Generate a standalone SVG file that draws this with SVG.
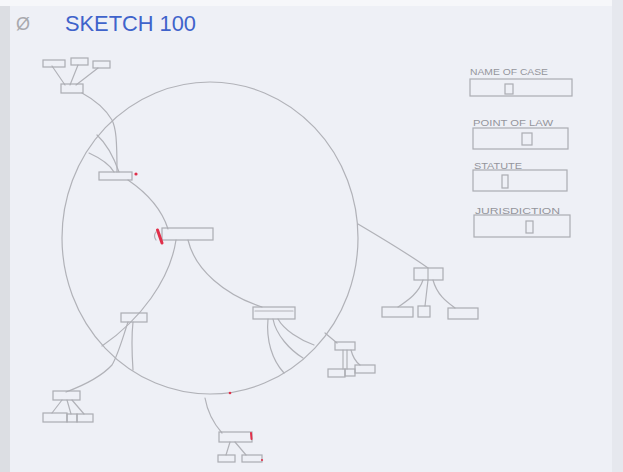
<svg xmlns="http://www.w3.org/2000/svg" width="623" height="472" viewBox="0 0 623 472">
<defs>
<style>
.ln{fill:none;stroke:#b1b2b8;stroke-width:1.2;stroke-linecap:round}
.bx{fill:none;stroke:#abacb2;stroke-width:1.2}
.lbl{font-family:"Liberation Sans",Arial,sans-serif;font-size:8.5px;fill:#94959c}
.red{fill:none;stroke:#e0304a;stroke-linecap:round}
</style>
</defs>
<rect width="623" height="472" fill="#eef0f6"/>
<rect x="0" y="0" width="10" height="472" fill="#dcdee3"/>
<rect x="0" y="0" width="623" height="6" fill="#f6f7fa"/>
<rect x="612" y="0" width="11" height="472" fill="#e6e8ee"/>

<text x="16" y="30" font-family="Liberation Sans, Arial, sans-serif" font-size="18" fill="#a8a9ae">Ø</text>
<text x="65" y="31" font-family="Liberation Sans, Arial, sans-serif" font-size="22" fill="#3f63cb" textLength="131" lengthAdjust="spacingAndGlyphs">SKETCH 100</text>

<g id="connectors">
<ellipse class="ln" cx="210" cy="238" rx="148" ry="156"/>
<path class="ln" d="M52 66 L65 85"/>
<path class="ln" d="M78 65 L70 85"/>
<path class="ln" d="M98 68 L76 85"/>
<path class="ln" d="M82 93 C95 100 106 110 112 120 C116 128 117 140 117 172"/>
<path class="ln" d="M97 135 C108 145 114 158 119 172"/>
<path class="ln" d="M89 153 C100 158 110 165 114 172"/>
<path class="ln" d="M128 180 C150 195 162 210 168 229"/>
<path class="ln" d="M188 240 C195 270 225 295 262 307"/>
<path class="ln" d="M176 240 C170 280 140 320 102 346"/>
<path class="ln" d="M128 322 C122 340 118 355 112 365 C100 378 82 386 66 392"/>
<path class="ln" d="M133 322 C131 340 132 355 133 370"/>
<path class="ln" d="M268 319 C266 340 272 360 284 373"/>
<path class="ln" d="M273 319 C276 335 290 350 303 358"/>
<path class="ln" d="M278 319 C284 330 300 340 314 345"/>
<path class="ln" d="M325 333 L337 343"/>
<path class="ln" d="M343 350 L343 369"/>
<path class="ln" d="M347 350 L347 369"/>
<path class="ln" d="M351 350 C353 358 356 362 360 365"/>
<path class="ln" d="M358 224 C385 240 410 255 428 268"/>
<path class="ln" d="M423 280 C418 295 405 302 398 307"/>
<path class="ln" d="M428 280 L425 306"/>
<path class="ln" d="M433 280 C437 295 447 302 455 308"/>
<path class="ln" d="M205 398 C208 415 215 425 222 433"/>
<path class="ln" d="M230 442 L226 455"/>
<path class="ln" d="M235 442 L246 455"/>
<path class="ln" d="M62 400 L52 413"/>
<path class="ln" d="M67 400 L71 414"/>
<path class="ln" d="M72 400 L84 414"/>
</g>

<g id="node-topleft">
<rect class="bx" x="43" y="60" width="22" height="7"/>
<rect class="bx" x="71" y="58" width="17" height="7"/>
<rect class="bx" x="93" y="61" width="17" height="7"/>
<rect class="bx" x="61" y="84" width="22" height="9"/>
</g>

<g id="node-a">
<rect class="bx" x="99" y="172" width="33" height="8"/>
<circle cx="136" cy="174" r="1.6" fill="#e0304a"/>
</g>

<g id="node-center">
<rect class="bx" x="162" y="228" width="51" height="12"/>
<path class="ln" d="M156 232 Q153 236 156 240"/>
<line class="red" x1="157.5" y1="230" x2="162" y2="243" stroke-width="3"/>
</g>

<g id="node-left">
<rect class="bx" x="121" y="313" width="26" height="9"/>
</g>

<g id="node-rightcenter">
<rect class="bx" x="253" y="307" width="42" height="12"/>
<line class="ln" x1="255" y1="311" x2="293" y2="311"/>
</g>

<g id="node-smallright">
<rect class="bx" x="335" y="342" width="20" height="8"/>
<rect class="bx" x="328" y="369" width="17" height="8"/>
<rect class="bx" x="345" y="369" width="10" height="7"/>
<rect class="bx" x="355" y="365" width="20" height="8"/>
</g>

<g id="node-rightcluster">
<rect class="bx" x="414" y="268" width="29" height="12"/>
<line class="ln" x1="428" y1="268" x2="428" y2="280"/>
<rect class="bx" x="382" y="307" width="31" height="10"/>
<rect class="bx" x="418" y="306" width="12" height="11"/>
<rect class="bx" x="448" y="308" width="30" height="11"/>
</g>

<g id="node-bottom">
<rect class="bx" x="219" y="432" width="33" height="10"/>
<line class="red" x1="251" y1="433" x2="251.5" y2="439" stroke-width="2"/>
<circle cx="230" cy="393" r="1.3" fill="#e0304a"/>
<rect class="bx" x="218" y="455" width="17" height="7"/>
<rect class="bx" x="242" y="455" width="20" height="7"/>
<circle cx="262" cy="460" r="1.1" fill="#e0304a"/>
</g>

<g id="node-bottomleft">
<rect class="bx" x="53" y="391" width="27" height="9"/>
<rect class="bx" x="43" y="413" width="24" height="9"/>
<rect class="bx" x="67" y="414" width="10" height="8"/>
<rect class="bx" x="77" y="414" width="16" height="8"/>
</g>

<g id="field-name">
<text class="lbl" x="470" y="75" textLength="78" lengthAdjust="spacingAndGlyphs">NAME OF CASE</text>
<rect class="bx" x="470" y="79" width="102" height="17"/>
<rect class="bx" x="505" y="84" width="8" height="10"/>
</g>
<g id="field-point">
<text class="lbl" x="473" y="126" textLength="80" lengthAdjust="spacingAndGlyphs">POINT OF LAW</text>
<rect class="bx" x="473" y="128" width="95" height="21"/>
<rect class="bx" x="522" y="133" width="10" height="12"/>
</g>
<g id="field-statute">
<text class="lbl" x="474" y="169" textLength="48" lengthAdjust="spacingAndGlyphs">STATUTE</text>
<rect class="bx" x="473" y="170" width="94" height="21"/>
<rect class="bx" x="502" y="175" width="6" height="13"/>
</g>
<g id="field-jurisdiction">
<text class="lbl" x="475" y="214" textLength="85" lengthAdjust="spacingAndGlyphs">JURISDICTION</text>
<rect class="bx" x="474" y="215" width="96" height="22"/>
<rect class="bx" x="526" y="221" width="7" height="12"/>
</g>
</svg>
